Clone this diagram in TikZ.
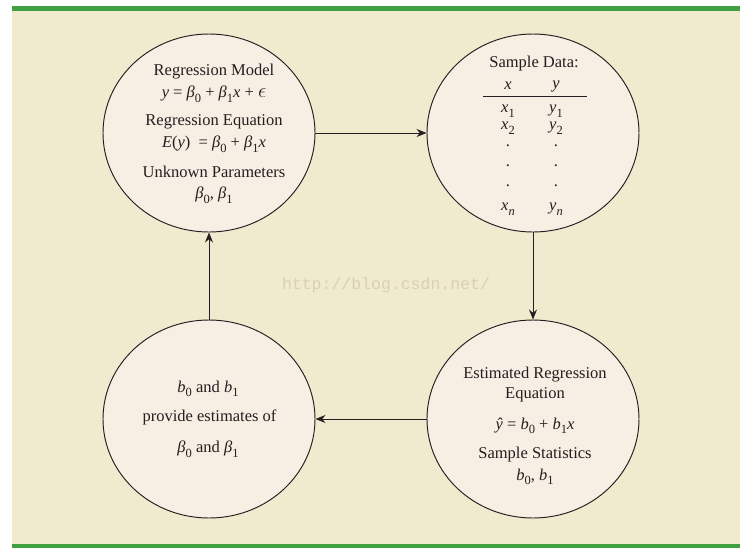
\documentclass[tikz,border=0pt]{standalone}
\usepackage{fontspec}
\setmainfont{Liberation Serif}
\newfontfamily\wmfont{Liberation Mono}
\usetikzlibrary{arrows.meta,shapes.geometric}
\definecolor{bgbeige}{HTML}{F0EACE}
\definecolor{cfill}{HTML}{F7EFE3}
\definecolor{gbar}{HTML}{3EA03E}
\definecolor{ink}{HTML}{231F20}
\definecolor{wmcol}{HTML}{D8D0B8}
\newcommand\sbs[1]{\raisebox{-0.6ex}{\fontsize{12.5}{13}\selectfont #1}}
\newcommand\vi[1]{\textit{#1}}
\begin{document}
\begin{tikzpicture}[x=1pt,y=-1pt,
  blob/.style={ellipse,draw=ink,line width=0.95pt,fill=cfill,minimum width=212pt,minimum height=198pt,inner sep=0pt},
  conn/.style={draw=ink,line width=0.95pt,-{Stealth[length=10pt,width=8pt]}},
  txt/.style={inner sep=0pt,text=ink,font=\fontsize{16.5}{18}\selectfont},
  wm/.style={inner sep=0pt,text=wmcol,font=\wmfont\fontsize{16.5}{18}\selectfont}]
\useasboundingbox (0,0) rectangle (753,550);
\fill[white] (0,0) rectangle (753,550);
\fill[bgbeige] (11.5,10) rectangle (740,544);
\fill[gbar] (11.5,6) rectangle (740,10.5);
\fill[gbar] (11.5,543.5) rectangle (740,548);
\node[wm] (wmark) at (386,285) {http://blog.csdn.net/};
% circles
\node[blob] (tl) at (209,133) {};
\node[blob] (tr) at (533,133) {};
\node[blob] (bl) at (209,419) {};
\node[blob] (br) at (533,419) {};
% connectors
\draw[conn] (tl.east) -- (tr.west);
\draw[conn] (tr.south) -- (br.north);
\draw[conn] (br.west) -- (bl.east);
\draw[conn] (bl.north) -- (tl.south);
% top-left text
\node[txt] (tl1) at (214,72) {Regression Model};
\node[txt] (tl2) at (214,94) {\vi{y} = \vi{β}\sbs{0} + \vi{β}\sbs{1}\vi{x} + {\fontsize{21}{21}\selectfont$\epsilon$}};
\node[txt] (tl3) at (214,122) {Regression Equation};
\node[txt] (tl4) at (214,144) {\vi{E}(\vi{y})\ \ = \vi{β}\sbs{0} + \vi{β}\sbs{1}\vi{x}};
\node[txt] (tl5) at (214,172) {Unknown Parameters};
\node[txt] (tl6) at (214,195) {\vi{β}\sbs{0}, \vi{β}\sbs{1}};
% top-right text
\node[txt] (tr1) at (534,64) {Sample Data:};
\node[txt] (trx) at (508,86) {\vi{x}};
\node[txt] (try) at (556,86) {\vi{y}};
\draw[ink,line width=0.95pt] (483,96) -- (587,96);
\node[txt] (trx1) at (508,111) {\vi{x}\sbs{1}};
\node[txt] (try1) at (556,111) {\vi{y}\sbs{1}};
\node[txt] (trx2) at (508,128) {\vi{x}\sbs{2}};
\node[txt] (try2) at (556,128) {\vi{y}\sbs{2}};
\node[txt] (trd1) at (508,146) {.};
\node[txt] (trd1b) at (556,146) {.};
\node[txt] (trd2) at (508,166) {.};
\node[txt] (trd2b) at (556,166) {.};
\node[txt] (trd3) at (508,186) {.};
\node[txt] (trd3b) at (556,186) {.};
\node[txt] (trxn) at (508,209) {\vi{x}\sbs{\vi{n}}};
\node[txt] (tryn) at (556,209) {\vi{y}\sbs{\vi{n}}};
% bottom-right text
\node[txt] (br1) at (535,375) {Estimated Regression};
\node[txt] (br2) at (535,395) {Equation};
\node[txt] (br3) at (535,426) {\vi{ŷ} = \vi{b}\sbs{0} + \vi{b}\sbs{1}\vi{x}};
\node[txt] (br4) at (535,455) {Sample Statistics};
\node[txt] (br5) at (535,477) {\vi{b}\sbs{0}, \vi{b}\sbs{1}};
% bottom-left text
\node[txt] (bl1) at (208,389) {\vi{b}\sbs{0} and \vi{b}\sbs{1}};
\node[txt] (bl2) at (209.5,417) {provide estimates of};
\node[txt] (bl3) at (208,449) {\vi{β}\sbs{0} and \vi{β}\sbs{1}};
\end{tikzpicture}
\end{document}
